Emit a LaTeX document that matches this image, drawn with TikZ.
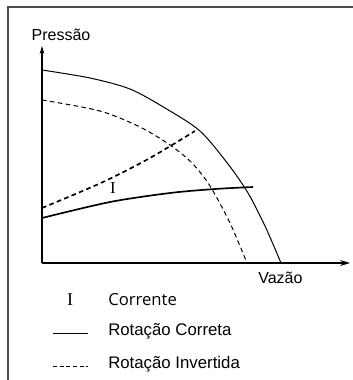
\documentclass[tikz,border=0pt]{standalone}
\usepackage{fontspec}
\setmainfont{Liberation Sans}
\newfontfamily\legfont{Open Sans}
\newfontfamily\symfont{Liberation Serif}
\usetikzlibrary{arrows.meta}

\begin{document}
\begin{tikzpicture}[x=0.75pt,y=-0.75pt,
  head/.style={line width=0.75pt},
  amps/.style={line width=1.25pt},
  inv/.style={dash pattern=on 3.5pt off 2.5pt},
  lbl/.style={font=\fontsize{12}{14}\selectfont, inner sep=0pt},
  leg/.style={font=\fontsize{12.6}{14}\selectfont, inner sep=0pt, anchor=west}]
\useasboundingbox (0,0) rectangle (353,380);
\draw[gray!60!black, line width=1.1pt] (353,7) -- (8,7) -- (8,380);
\coordinate (O) at (42,263);
\coordinate (ytip) at (42,46);
\coordinate (xtip) at (350,263);
\draw[line width=0.8pt, -{Stealth[length=6pt,width=3.5pt]}] (O) -- (ytip);
\draw[line width=0.8pt, -{Stealth[length=7.5pt,width=4.5pt]}] (O) -- (xtip);
\node[lbl] (pressao) at (61,35) {Pressão};
\node[lbl, anchor=west] (vazao) at (258,278) {Vazão};
\draw[head] plot [smooth] coordinates {(42,70) (90,78) (130,89) (165,108) (200,131) (228,164) (248,193) (265,226) (281,263)};
\draw[head, inv] plot [smooth] coordinates {(42,100) (100,111) (140,127) (170,145) (192,163) (210,186) (230,223) (247,263)};
\draw[amps, inv] plot [smooth] coordinates {(42,208) (103,182) (150,158) (195,131)};
\draw[amps] plot [smooth] coordinates {(42,218) (110,202) (170,193) (215,189) (253,187)};
\node[font=\fontsize{12.5}{14}\symfont, inner sep=0pt] (ilabel) at (113,188) {I};
% legenda
\node[font=\fontsize{13.5}{14}\symfont, inner sep=0pt] (isym) at (70,300) {I};
\node[leg, font=\fontsize{12.5}{14}\legfont] (corrente) at (108,300) {Corrente};
\coordinate (c1) at (53,333);
\coordinate (c2) at (88,333);
\draw[line width=0.7pt] (c1) -- (c2);
\node[leg] (correta) at (108,331) {Rotação Correta};
\coordinate (i1) at (53,366);
\coordinate (i2) at (88,366);
\draw[head, dash pattern=on 3pt off 2pt] (i1) -- (i2);
\node[leg] (invertida) at (108,364) {Rotação Invertida};
\end{tikzpicture}
\end{document}
